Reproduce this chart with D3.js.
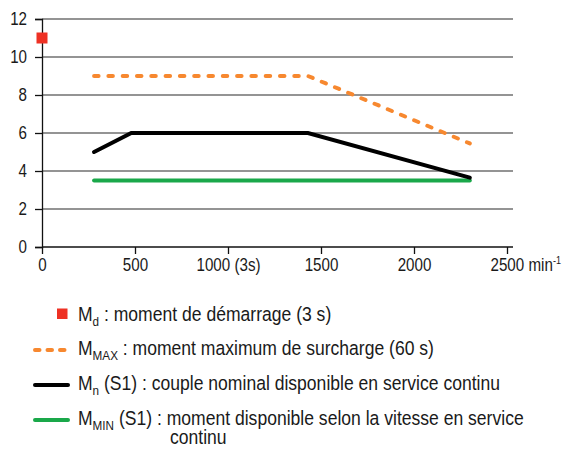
<!DOCTYPE html>
<html><head><meta charset="utf-8">
<script src="https://cdn.jsdelivr.net/npm/d3@7"></script>
<style>
body{margin:0;background:#fff}
svg text{font-family:"Liberation Sans",Arial,sans-serif;fill:#1a1a1a}
</style></head><body>
<svg id="c" width="563" height="450"></svg>
<script>
const yTicks = [0,2,4,6,8,10,12];
const xTicks = [0,500,1000,1500,2000,2500];
const xTickLabels = ["0","500","1000 (3s)","1500","2000","2500"];
const xUnit = "min";
const xUnitSup = "-1";
const mdPoint = [{x:0,y:11}];
const mmaxSpeed = [280,1430,2300];
const mmaxTorque = [9,9,5.45];
const mnSpeed = [280,480,1430,2300];
const mnTorque = [5,6,6,3.65];
const mminSpeed = [280,2300];
const mminTorque = [3.5,3.5];
const legendItems = [
  {type:"square", color:"#ee3124", main:"M", sub:"d", rest:" : moment de démarrage (3 s)"},
  {type:"dash", color:"#f7882f", main:"M", sub:"MAX", rest:" : moment maximum de surcharge (60 s)"},
  {type:"line", color:"#000000", main:"M", sub:"n", rest:" (S1) : couple nominal disponible en service continu"},
  {type:"line", color:"#1aa84a", main:"M", sub:"MIN", rest:" (S1) : moment disponible selon la vitesse en service", cont:"continu"}
];

const SX = 0.82;   // axis text condensation
const LX = 0.9;    // legend text condensation
const svg = d3.select("#c");
const x = d3.scaleLinear().domain([0,2500]).range([42,507]);
const y = d3.scaleLinear().domain([0,12]).range([247,19]);
const gridRight = 513;

// gridlines
svg.append("g").selectAll("line").data(yTicks.filter(d=>d>0)).join("line")
  .attr("x1",x(0)).attr("x2",gridRight).attr("y1",d=>y(d)).attr("y2",d=>y(d))
  .attr("stroke","#707070").attr("stroke-width",1.3);

// y axis
const ya = svg.append("g").attr("transform",`translate(${x(0)},0)`)
  .call(d3.axisLeft(y).tickValues(yTicks).tickSize(7).tickPadding(8).tickFormat(d3.format("d")));
ya.select(".domain").attr("stroke","#111").attr("stroke-width",1.3);
ya.selectAll(".tick line").attr("stroke","#111").attr("stroke-width",1.3);
ya.selectAll("text").style("font-size","18.5px").attr("fill","#1a1a1a")
  .attr("x",-15/SX).attr("transform",`scale(${SX},1)`);

// x axis
const xa = svg.append("g").attr("transform",`translate(0,${y(0)})`)
  .call(d3.axisBottom(x).tickValues(xTicks).tickSize(7).tickPadding(4).tickFormat((d,i)=>xTickLabels[i]));
xa.select(".domain").attr("d",`M${x(0)},0H${gridRight}`).attr("stroke","#111").attr("stroke-width",1.3);
xa.selectAll(".tick line").attr("stroke","#111").attr("stroke-width",1.3);
xa.selectAll("text").style("font-size","18.5px").attr("fill","#1a1a1a")
  .attr("transform",`scale(${SX},1)`);
// unit after last label
const lastTick = xa.selectAll(".tick").filter(d=>d===2500).select("text");
lastTick.attr("text-anchor","start").attr("x",-17/SX);
lastTick.append("tspan").text(" " + xUnit);
lastTick.append("tspan").text(xUnitSup).attr("dy",-7).style("font-size","11px");

const line = d3.line().x(d=>x(d[0])).y(d=>y(d[1]));

// M_MIN
svg.append("path").datum(mminSpeed.map((s,i)=>[s,mminTorque[i]])).attr("d",line)
  .attr("fill","none").attr("stroke","#1aa84a").attr("stroke-width",4).attr("stroke-linecap","round");
// M_n
svg.append("path").datum(mnSpeed.map((s,i)=>[s,mnTorque[i]])).attr("d",line)
  .attr("fill","none").attr("stroke","#000").attr("stroke-width",4).attr("stroke-linecap","round");
// M_MAX
svg.append("path").datum(mmaxSpeed.map((s,i)=>[s,mmaxTorque[i]])).attr("d",line)
  .attr("fill","none").attr("stroke","#f7882f").attr("stroke-width",4).attr("stroke-linecap","round")
  .attr("stroke-dasharray","4.5,9.8");
// M_d
svg.append("g").selectAll("rect").data(mdPoint).join("rect")
  .attr("x",d=>x(d.x)-5.5).attr("y",d=>y(d.y)-5.5).attr("width",11).attr("height",11).attr("fill","#ee3124");

// legend
const baselines = [321,355,390,425];
const lg = svg.append("g");
legendItems.forEach((it,i)=>{
  const b = baselines[i];
  const cy = b - 7;
  if(it.type==="square"){
    lg.append("rect").attr("x",57).attr("y",cy-5.5).attr("width",10.5).attr("height",10.5).attr("fill",it.color);
  } else {
    lg.append("line").attr("x1",35).attr("x2",68).attr("y1",cy+2).attr("y2",cy+2)
      .attr("stroke",it.color).attr("stroke-width",4).attr("stroke-linecap","round")
      .attr("stroke-dasharray",it.type==="dash"?"4.5,8":null);
  }
  const t = lg.append("text").attr("transform",`translate(78,${b}) scale(${LX},1)`).style("font-size","19.5px");
  t.append("tspan").text(it.main);
  t.append("tspan").text(it.sub).attr("dy",5).style("font-size","13px");
  t.append("tspan").text(it.rest).attr("dy",-5);
  if(it.cont){
    lg.append("text").attr("transform",`translate(170,${b+19}) scale(${LX},1)`).style("font-size","19.5px").text(it.cont);
  }
});
</script></body></html>
